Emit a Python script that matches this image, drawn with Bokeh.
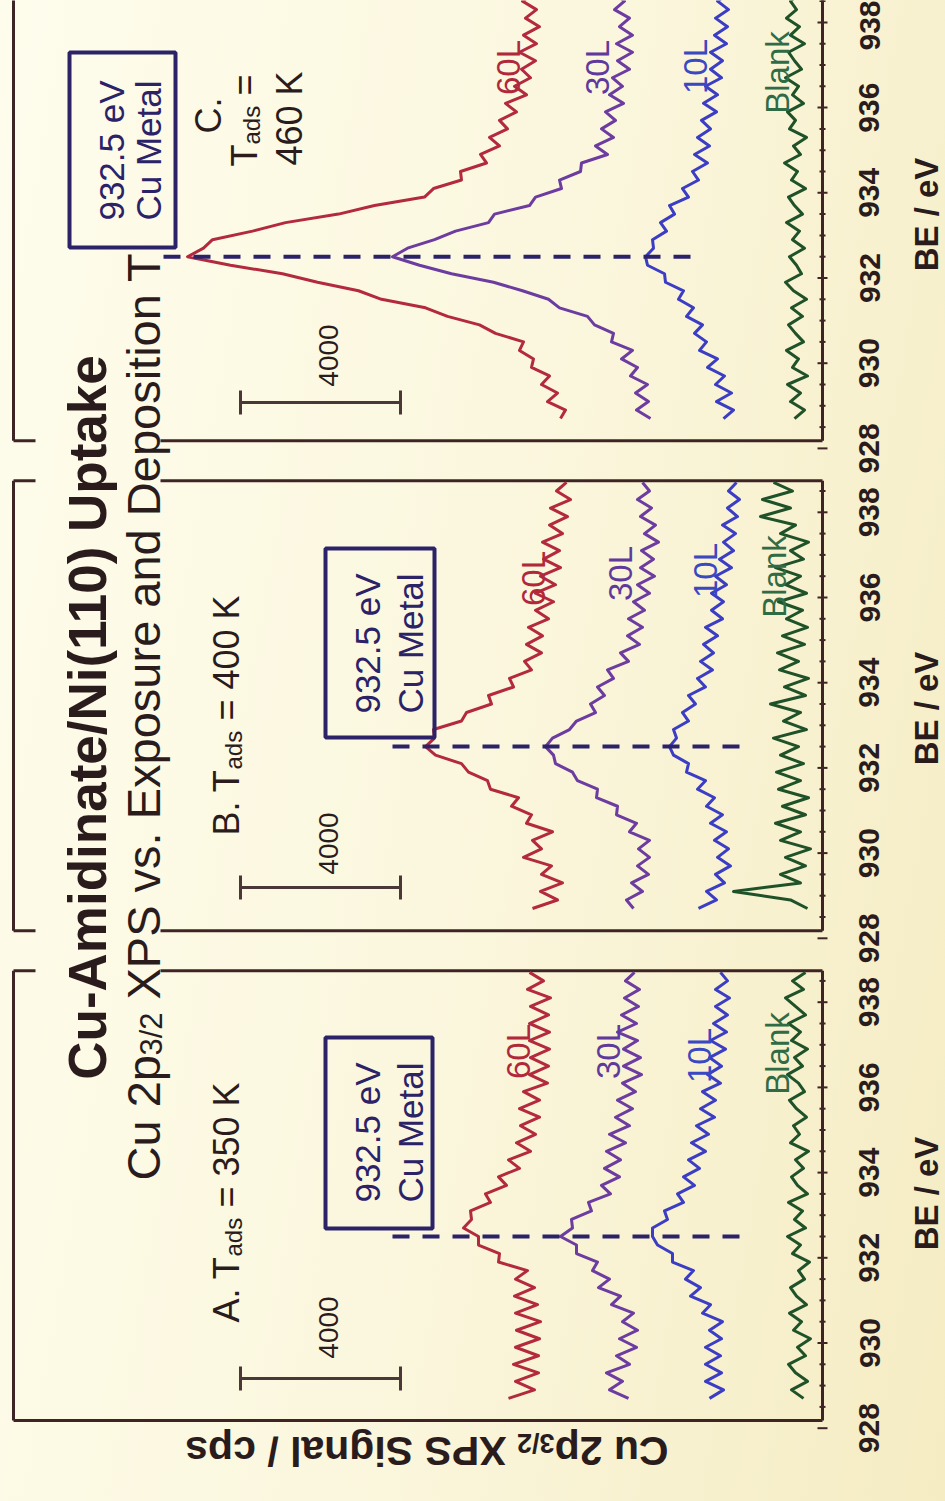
import math
from bokeh.plotting import figure
from bokeh.layouts import row
from bokeh.models import Range1d, LinearAxis, FixedTicker
from bokeh.core.properties import value
from bokeh.embed import file_html
from bokeh.resources import INLINE

# ---------------------------------------------------------------- data
# binding-energy grid shared by every spectrum (eV)
BE = [928.7, 928.9, 929.1, 929.3, 929.5, 929.7, 929.9, 930.1, 930.3, 930.5,
      930.7, 930.9, 931.1, 931.3, 931.5, 931.7, 931.9, 932.1, 932.3, 932.5,
      932.7, 932.9, 933.1, 933.3, 933.5, 933.7, 933.9, 934.1, 934.3, 934.5,
      934.7, 934.9, 935.1, 935.3, 935.5, 935.7, 935.9, 936.1, 936.3, 936.5,
      936.7, 936.9, 937.1, 937.3, 937.5, 937.7, 937.9, 938.1, 938.3, 938.5,
      938.7]

PANELS = ["A", "B", "C"]
T_ADS_K = [350, 400, 460]
EXPOSURES = ["60L", "30L", "10L", "Blank"]
CU_METAL_BE = 932.5
SCALE_BAR_CPS = 4000
BE_TICKS = [928, 930, 932, 934, 936, 938]
BE_MINOR_STEP = 0.5
BE_FRAME = (928.18, 938.74)

# Cu 2p3/2 signal above each trace's own stacking offset (cps)
A_60L = [1175, 525, 1000, 425, 1050, 425, 1000, 400, 975, 375, 1000, 450, 1025, 525, 1000, 700, 1425, 1400, 1925, 1925,
         2300, 2100, 2125, 1625, 1750, 1225, 1425, 900, 1175, 625, 975, 500, 875, 400, 900, 400, 800, 200, 650, 175,
         625, 150, 650, 150, 650, 175, 625, 125, 700, 300, 650]
A_30L = [500, 975, 650, 1050, 475, 800, 300, 725, 275, 650, 375, 925, 700, 1250, 975, 1400, 1275, 1800, 1800, 2200,
         1900, 1925, 1425, 1500, 950, 1175, 725, 1100, 700, 1050, 575, 975, 475, 825, 400, 775, 325, 650, 175, 625,
         200, 625, 275, 775, 300, 675, 250, 600, 225, 575, 350]
A_10L = [675, 325, 775, 375, 775, 400, 775, 375, 675, 350, 850, 650, 1150, 900, 1275, 1075, 1600, 1600, 1975, 2100,
         2100, 1725, 1800, 1325, 1475, 1050, 1325, 925, 1200, 775, 1125, 700, 1000, 550, 900, 525, 850, 400, 725, 375,
         675, 275, 650, 250, 575, 225, 525, 175, 525, 225, 400]
A_BLANK = [300, 600, 200, 500, 675, 250, 450, 125, 550, 350, 650, 225, 475, 625, 275, 425, 150, 575, 375, 700,
           250, 525, 325, 675, 200, 450, 600, 300, 500, 175, 625, 400, 550, 225, 475, 650, 275, 425, 700, 325,
           525, 200, 600, 375, 675, 250, 500, 750, 300, 575, 250]

B_60L = [950, 325, 750, 200, 725, 475, 1175, 725, 950, 450, 1100, 975, 1475, 1300, 2000, 2075, 2550, 2725, 3375, 3625,
         3400, 3425, 2725, 2600, 1975, 2050, 1425, 1525, 975, 1150, 725, 1100, 700, 1050, 550, 875, 425, 875, 375, 750,
         250, 675, 275, 700, 200, 525, 75, 500, 0, 350, 100]
B_30L = [750, 925, 525, 800, 375, 650, 350, 625, 350, 850, 675, 1175, 1150, 1675, 1650, 2150, 2275, 2700, 2750, 2950,
         2775, 2350, 2175, 1700, 1825, 1475, 1650, 1250, 1400, 875, 1075, 600, 900, 525, 875, 475, 750, 350, 650, 225,
         575, 250, 550, 125, 475, 200, 575, 300, 650, 350, 525]
B_10L = [1050, 600, 850, 400, 625, 250, 575, 300, 650, 350, 750, 450, 850, 650, 1075, 875, 1350, 1300, 1675, 1775,
         1600, 1675, 1300, 1450, 1125, 1300, 875, 1075, 700, 1000, 675, 925, 575, 875, 450, 725, 425, 725, 350, 625,
         225, 525, 175, 425, 125, 450, 75, 325, 25, 300, 100]
B_BLANK = [200, 625, 2050, 375, 875, 250, 750, 125, 875, 375, 1000, 250, 825, 175, 925, 375, 975, 300, 875, 425,
           1050, 225, 800, 375, 1125, 250, 775, 175, 900, 425, 950, 275, 825, 200, 725, 325, 925, 225, 750, 375,
           1000, 300, 625, 175, 875, 500, 1375, 625, 1325, 575, 1050]

C_60L = [250, 125, 575, 325, 725, 525, 975, 925, 1275, 1175, 1875, 2275, 3075, 3625, 4725, 5300, 6325, 7200, 8500, 9575,
         9175, 8950, 7950, 7125, 5800, 4900, 3650, 3425, 2725, 2750, 2100, 2250, 1775, 2025, 1575, 1775, 1350, 1625, 1100,
         1400, 1000, 1225, 875, 1275, 850, 1175, 775, 1125, 850, 1200, 900]
C_30L = [0, 350, 50, 375, 75, 500, 325, 725, 450, 975, 925, 1400, 1575, 2275, 2550, 3200, 3925, 4975, 5775, 6450,
         6075, 5400, 4875, 4050, 3900, 3025, 2875, 2225, 2275, 1750, 1725, 1075, 1375, 925, 1225, 875, 1125, 675, 1025,
         700, 950, 525, 825, 450, 850, 450, 775, 525, 900, 650, 925]
C_10L = [425, 175, 600, 225, 625, 400, 825, 575, 1025, 850, 1150, 950, 1350, 1175, 1550, 1425, 1875, 1900, 2325, 2375,
         2175, 2200, 1850, 2000, 1650, 1775, 1300, 1450, 1050, 1200, 825, 1150, 775, 1075, 750, 975, 600, 925, 575, 875,
         475, 750, 450, 750, 350, 650, 325, 625, 300, 575, 250]
C_BLANK = [450, 200, 550, 300, 625, 125, 500, 350, 650, 225, 425, 600, 250, 525, 150, 475, 675, 275, 400, 575,
           200, 500, 325, 650, 250, 450, 600, 175, 525, 375, 700, 300, 475, 150, 575, 425, 625, 225, 500, 350,
           675, 275, 450, 600, 200, 550, 325, 650, 400, 550, 300]

# vertical stacking offsets of the four traces in each panel (cps)
OFFSET_A = [6675, 4350, 2150, 175]
OFFSET_B = [6300, 3975, 2050, 175]
OFFSET_C = [6300, 4300, 2050, 250]

SPECTRA = {"A": [A_60L, A_30L, A_10L, A_BLANK],
           "B": [B_60L, B_30L, B_10L, B_BLANK],
           "C": [C_60L, C_30L, C_10L, C_BLANK]}
OFFSETS = {"A": OFFSET_A, "B": OFFSET_B, "C": OFFSET_C}

# ---------------------------------------------------------------- style
FONT = "Liberation Sans"
TEXT = "#2a1c1c"
FRAME = "#3e2424"
NAVY = "#2b2268"
LINE_COLORS = ["#b3293d", "#6c3ca0", "#3b3dc4", "#1f5229"]
LABEL_COLORS = ["#b0283a", "#5f3a9c", "#3a48c2", "#2f6c46"]

# ---------------------------------------------------------------- geometry
W, H = 945, 1501
MAIN_W = 830           # spectra figure
SIDE_W = W - MAIN_W    # strip carrying the energy tick labels and titles
AXIS_PX = 822          # column of the panel right edges / energy axis (px)
LABEL_AXIS_PX = 882    # column the tick labels hang from
CPS_PER_PX = 25.0      # horizontal signal scale
PX_PER_EV = 42.6       # vertical energy scale
PANEL_STEP = 11.5      # eV between stacked panels on the shared vertical scale
REF_PX = 1236          # row of CU_METAL_BE in panel A (px)


def X(px):
    """canvas column -> signal coordinate"""
    return (AXIS_PX - px) * CPS_PER_PX


def Y(px):
    """canvas row -> stacked energy coordinate"""
    return CU_METAL_BE + (REF_PX - px) / PX_PER_EV


y_range = Range1d(Y(H), Y(0))
p = figure(width=MAIN_W, height=H,
           x_range=Range1d(X(0), X(MAIN_W)), y_range=y_range,
           output_backend="svg", toolbar_location=None,
           x_axis_location=None, y_axis_location=None,
           min_border_left=0, min_border_top=0, min_border_bottom=0, min_border_right=0)
for g in p.grid:
    g.visible = False
p.outline_line_color = None
p.background_fill_color = None
p.border_fill_color = None


def rtext(px_x, px_y, s, size, color, style="normal", align="center", angle=math.pi / 2):
    p.text(x=[X(px_x)], y=[Y(px_y)], text=[s], angle=angle,
           text_align=align, text_baseline="alphabetic",
           text_font=value(FONT), text_font_size=f"{size}px",
           text_font_style=style, text_color=color)


# energy ticks of the three stacked panels
ticks, minor, overrides = [], [], {}
for k in range(len(PANELS)):
    for b in BE_TICKS:
        t = b + PANEL_STEP * k
        ticks.append(t)
        overrides[t] = str(b)
    e = BE_TICKS[0] + BE_MINOR_STEP
    while e <= BE_FRAME[1]:
        if e not in BE_TICKS:
            minor.append(e + PANEL_STEP * k)
        e += BE_MINOR_STEP

# tick marks straddling each panel's right edge
p.segment(x0=[X(AXIS_PX - 5)] * len(ticks), x1=[X(AXIS_PX + 5)] * len(ticks), y0=ticks, y1=ticks,
          line_color=FRAME, line_width=2)
p.segment(x0=[X(AXIS_PX - 3)] * len(minor), x1=[X(AXIS_PX + 3)] * len(minor), y0=minor, y1=minor,
          line_color=FRAME, line_width=2)

# panel frames (left side opened where the heading runs across)
x0s, x1s, y0s, y1s = [], [], [], []
for k in range(len(PANELS)):
    lo, hi = BE_FRAME[0] + PANEL_STEP * k, BE_FRAME[1] + PANEL_STEP * k
    x0s += [X(AXIS_PX), X(13)]
    x1s += [X(AXIS_PX), X(13)]
    y0s += [lo, lo]
    y1s += [hi, hi]
    for edge in (lo, hi):
        if k == 0 and edge == lo:
            x0s.append(X(13)); x1s.append(X(AXIS_PX)); y0s.append(edge); y1s.append(edge)
        else:
            x0s += [X(13), X(160)]
            x1s += [X(35), X(AXIS_PX)]
            y0s += [edge, edge]
            y1s += [edge, edge]
p.segment(x0=x0s, y0=y0s, x1=x1s, y1=y1s, line_color=FRAME, line_width=3)

# spectra
for k, name in enumerate(PANELS):
    for j, spec in enumerate(SPECTRA[name]):
        off = OFFSETS[name][j]
        p.line(x=[off + v for v in spec], y=[b + PANEL_STEP * k for b in BE],
               line_color=LINE_COLORS[j], line_width=3, line_join="round")

# Cu metal reference line, annotation boxes
dash_px = {"A": (392, 745), "B": (392, 747), "C": (163, 700)}
box_px = {"A": (325, 432, 1037, 1228), "B": (325, 434, 548, 737), "C": (69, 175, 52, 247)}
text_px = {"A": (367, 410, 1132), "B": (367, 410, 643), "C": (111, 148, 150)}
for k, name in enumerate(PANELS):
    yk = CU_METAL_BE + PANEL_STEP * k
    a, b = dash_px[name]
    p.line(x=[X(a), X(b)], y=[yk, yk], line_color=NAVY, line_width=4, line_dash="17 13")
    l, r, t, btm = box_px[name]
    p.quad(left=[X(l)], right=[X(r)], top=[Y(t)], bottom=[Y(btm)],
           fill_color=None, line_color=NAVY, line_width=4)
    b1, b2, cy = text_px[name]
    rtext(b1, cy, f"{CU_METAL_BE} eV", 35, NAVY)
    rtext(b2, cy, "Cu Metal", 35, NAVY)

# 4000 cps scale bars
bar_px = {"A": (1378, 1327), "B": (887, 843), "C": (402, 355)}
cap = 12 / PX_PER_EV
for name in PANELS:
    by, ty = bar_px[name]
    xr = X(400)
    xl = xr + SCALE_BAR_CPS
    yb = Y(by)
    p.segment(x0=[xr, xl, xr], y0=[yb, yb - cap, yb - cap], x1=[xl, xl, xr], y1=[yb, yb + cap, yb + cap],
              line_color="#4a3838", line_width=3)
    rtext(328, ty, str(SCALE_BAR_CPS), 28, TEXT)

# trace labels
lab_x = {"A": [518, 608, 699, 777], "B": [533, 620, 705, 774], "C": [508, 597, 695, 777]}
lab_y = {"A": [1051, 1051, 1055, 1053], "B": [578, 573, 570, 576], "C": [67, 67, 66, 72]}
for name in PANELS:
    for j, lab in enumerate(EXPOSURES):
        rtext(lab_x[name][j], lab_y[name][j], lab, 33, LABEL_COLORS[j])

# panel captions
for name, temp, start in (("A", T_ADS_K[0], 1322), ("B", T_ADS_K[1], 835)):
    rtext(226, start, f"{name}. T", 36, TEXT, align="left")
    rtext(233, start - 66, "ads", 24, TEXT, align="left")
    rtext(226, start - 115, f"= {temp} K", 36, TEXT, align="left")
rtext(208, 115, "C.", 36, TEXT)
rtext(244, 166, "T", 36, TEXT, align="left")
rtext(251, 144, "ads", 24, TEXT, align="left")
rtext(244, 95, "=", 36, TEXT, align="left")
rtext(289, 118, f"{T_ADS_K[2]} K", 36, TEXT)

# heading
rtext(87, 717, "Cu-Amidinate/Ni(110) Uptake", 53, TEXT, style="bold")
rtext(143, 1180, "Cu 2p", 47, TEXT, align="left")
rtext(151, 1055, "3/2", 31, TEXT, align="left")
rtext(143, 999, "XPS vs. Exposure and Deposition T", 47, TEXT, align="left")

# signal axis title (upside down along the bottom)
for s, px_x, px_y, size in (("Cu 2p", 668, 1450, 41), ("3/2", 554, 1442, 27),
                            ("XPS Signal / cps", 506, 1450, 41)):
    rtext(px_x, px_y, s, size, TEXT, style="bold", align="left", angle=math.pi)

# strip on the right: energy tick labels (centred on the ticks) and a title per panel
side = figure(width=SIDE_W, height=H, x_range=Range1d(0, W - LABEL_AXIS_PX), y_range=y_range,
              output_backend="svg", toolbar_location=None,
              x_axis_location=None, y_axis_location=None,
              min_border_left=LABEL_AXIS_PX - MAIN_W, min_border_right=0,
              min_border_top=0, min_border_bottom=0)
for g in side.grid:
    g.visible = False
side.outline_line_color = None
side.background_fill_color = None
side.border_fill_color = None
label_axis = LinearAxis(ticker=FixedTicker(ticks=ticks, minor_ticks=[]),
                        major_label_overrides=overrides,
                        axis_line_color=None, major_tick_line_color=None, minor_tick_line_color=None,
                        major_tick_in=0, major_tick_out=0, minor_tick_in=0, minor_tick_out=0,
                        major_label_orientation="parallel", major_label_standoff=3,
                        major_label_text_font=FONT, major_label_text_font_size="30px",
                        major_label_text_font_style="bold", major_label_text_color=TEXT)
side.add_layout(label_axis, "left")
side.text(x=[44] * 3, y=[Y(1193), Y(708), Y(214)], text=["BE / eV"] * 3, angle=math.pi / 2,
          text_align="center", text_baseline="middle", text_font=value(FONT),
          text_font_size="33px", text_font_style="bold", text_color=TEXT)

layout = row(p, side, spacing=0,
             styles={"background": "linear-gradient(100deg, #fefcec 0%, #fbf7de 50%, #f5ecc3 100%)"})
open("out.html", "w").write(file_html(layout, INLINE))
